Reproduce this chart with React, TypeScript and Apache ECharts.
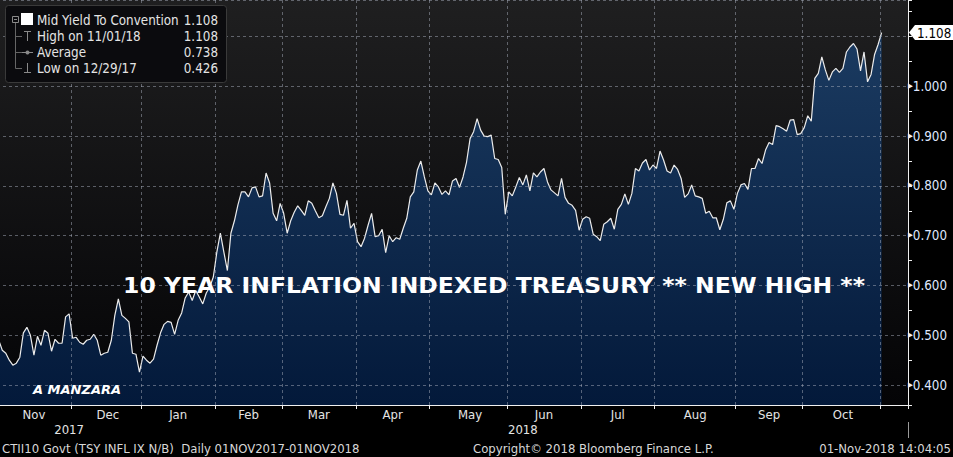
import React, { useEffect, useRef } from "react";
import * as echarts from "echarts";

// ---------- data ----------
const monthNames = ["Nov", "Dec", "Jan", "Feb", "Mar", "Apr", "May", "Jun", "Jul", "Aug", "Sep", "Oct", "Nov"];
const monthYears = [2017, 2017, 2018, 2018, 2018, 2018, 2018, 2018, 2018, 2018, 2018, 2018, 2018];

const nov2017 = [0.49, 0.47, 0.464, 0.45, 0.44, 0.444, 0.456, 0.505, 0.516, 0.5, 0.46, 0.498, 0.48, 0.51, 0.504, 0.468, 0.492, 0.484, 0.484, 0.537, 0.543];
const dec2017 = [0.494, 0.496, 0.486, 0.482, 0.49, 0.492, 0.502, 0.49, 0.46, 0.464, 0.466, 0.49, 0.54, 0.573, 0.54, 0.534, 0.527, 0.464, 0.462, 0.426];
const jan2018 = [0.458, 0.45, 0.444, 0.452, 0.48, 0.505, 0.522, 0.528, 0.526, 0.502, 0.53, 0.545, 0.575, 0.587, 0.57, 0.59, 0.577, 0.563, 0.585, 0.597, 0.617];
const feb2018 = [0.667, 0.705, 0.667, 0.63, 0.705, 0.73, 0.762, 0.788, 0.788, 0.778, 0.796, 0.798, 0.778, 0.78, 0.826, 0.806, 0.745, 0.73, 0.765];
const mar2018 = [0.745, 0.705, 0.73, 0.747, 0.76, 0.751, 0.741, 0.77, 0.765, 0.75, 0.736, 0.74, 0.758, 0.775, 0.806, 0.785, 0.743, 0.741, 0.771, 0.715, 0.725];
const apr2018 = [0.688, 0.678, 0.695, 0.721, 0.745, 0.698, 0.7, 0.713, 0.666, 0.7, 0.688, 0.696, 0.693, 0.715, 0.735, 0.778, 0.788, 0.832, 0.85, 0.818, 0.79];
const may2018 = [0.782, 0.806, 0.798, 0.783, 0.79, 0.782, 0.81, 0.815, 0.797, 0.818, 0.848, 0.895, 0.909, 0.935, 0.912, 0.9, 0.899, 0.902, 0.855, 0.853, 0.837, 0.743];
const jun2018 = [0.788, 0.78, 0.798, 0.817, 0.802, 0.822, 0.79, 0.826, 0.818, 0.828, 0.835, 0.808, 0.792, 0.786, 0.78, 0.815, 0.777, 0.765, 0.761, 0.751, 0.711];
const jul2018 = [0.733, 0.738, 0.735, 0.703, 0.698, 0.69, 0.723, 0.728, 0.735, 0.713, 0.753, 0.763, 0.784, 0.763, 0.785, 0.835, 0.83, 0.846, 0.853, 0.832, 0.842];
const aug2018 = [0.835, 0.87, 0.852, 0.83, 0.826, 0.842, 0.833, 0.815, 0.777, 0.784, 0.802, 0.78, 0.778, 0.775, 0.745, 0.749, 0.736, 0.736, 0.712, 0.733, 0.766, 0.77, 0.753];
const sep2018 = [0.785, 0.802, 0.805, 0.793, 0.835, 0.835, 0.855, 0.845, 0.872, 0.887, 0.883, 0.921, 0.919, 0.915, 0.91, 0.932, 0.933, 0.903, 0.905];
const oct2018 = [0.917, 0.941, 0.93, 1.016, 1.026, 1.059, 1.033, 1.012, 1.029, 1.036, 1.028, 1.036, 1.069, 1.079, 1.086, 1.075, 1.031, 1.069, 1.009, 1.024, 1.064, 1.084];
const nov2018 = [1.108];
const monthValues = [nov2017, dec2017, jan2018, feb2018, mar2018, apr2018, may2018, jun2018, jul2018, aug2018, sep2018, oct2018, nov2018];
const emptyDaysAfter = 7;

const legendLabels = ["Mid Yield To Convention", "High on 11/01/18", "Average", "Low on 12/29/17"];
const legendValues = ["1.108", "1.108", "0.738", "0.426"];
const lastValue = 1.108;
const yMin = 0.36;
const yMax = 1.1734;

const titleText = "10 YEAR INFLATION INDEXED TREASURY ** NEW HIGH **";
const authorText = "A MANZARA";
const footerLeft = "CTII10 Govt (TSY INFL IX N/B)  Daily 01NOV2017-01NOV2018";
const footerMid = "Copyright\u00A9 2018 Bloomberg Finance L.P.";
const footerRight = "01-Nov-2018 14:04:05";

const FONT = '"DejaVu Sans Condensed", "DejaVu Sans", sans-serif';
const TXT = "#e4e4e4";
const W = 953;
const H = 457;
const GRID_RIGHT = 45;

export default function App() {
  const ref = useRef<HTMLDivElement>(null);
  useEffect(() => {
    document.body.style.margin = "0";
    if (!ref.current) return;
    const chart = echarts.init(ref.current, null, { renderer: "svg" });

    const categories: string[] = [];
    const values: (number | null)[] = [];
    const monthStarts: number[] = [];
    const monthMids: number[] = [];
    monthValues.forEach((arr, m) => {
      monthStarts.push(categories.length);
      if (m < monthValues.length - 1) monthMids.push(categories.length + Math.floor(arr.length / 2));
      arr.forEach((v, k) => {
        categories.push(`${monthNames[m]} ${monthYears[m]} #${k + 1}`);
        values.push(v);
      });
    });
    for (let j = 0; j < emptyDaysAfter; j++) {
      categories.push(`Nov 2018 +${j + 1}`);
      values.push(null);
    }
    const startSet = new Set(monthStarts.filter((i) => i > 0));
    const midSet = new Set(monthMids);
    const janIndex = monthStarts[2];
    const mid2017 = Math.floor((janIndex - 1) / 2);
    const mid2018 = Math.floor((janIndex + categories.length - 1) / 2);

    const gridLine = { color: "rgba(165,172,185,0.5)", type: [3, 3] as any, width: 1 };

    const rows = [20, 36, 52, 68];
    const grey = "#8a8a8a";
    const legendGraphics: any[] = [
      { type: "rect", shape: { x: 5.5, y: 5.5, width: 221, height: 77, r: 3 }, style: { fill: "#0b0b0e", stroke: "#3a3a3a", lineWidth: 1 }, z: 10 },
      { type: "rect", shape: { x: 12.5, y: 16.5, width: 6, height: 6 }, style: { fill: "none", stroke: grey, lineWidth: 1 }, z: 11 },
      { type: "line", shape: { x1: 14, y1: 19.5, x2: 17, y2: 19.5 }, style: { stroke: grey, lineWidth: 1 }, z: 11 },
      { type: "rect", shape: { x: 21, y: 13, width: 12, height: 12 }, style: { fill: "#ffffff" }, z: 11 },
      { type: "line", shape: { x1: 15.5, y1: 23, x2: 15.5, y2: 68.5 }, style: { stroke: "#666", lineWidth: 1 }, z: 11 },
      ...rows.slice(1).map((y) => ({ type: "line", shape: { x1: 15.5, y1: y + 0.5, x2: 22, y2: y + 0.5 }, style: { stroke: "#666", lineWidth: 1 }, z: 11 })),
      { type: "line", shape: { x1: 24, y1: 31.5, x2: 31, y2: 31.5 }, style: { stroke: grey, lineWidth: 1 }, z: 11 },
      { type: "line", shape: { x1: 27.5, y1: 31.5, x2: 27.5, y2: 41 }, style: { stroke: grey, lineWidth: 1 }, z: 11 },
      { type: "line", shape: { x1: 22, y1: 52.5, x2: 33, y2: 52.5 }, style: { stroke: grey, lineWidth: 1 }, z: 11 },
      { type: "circle", shape: { cx: 27.5, cy: 52.5, r: 2 }, style: { fill: grey }, z: 11 },
      { type: "line", shape: { x1: 27.5, y1: 63, x2: 27.5, y2: 72.5 }, style: { stroke: grey, lineWidth: 1 }, z: 11 },
      { type: "line", shape: { x1: 24, y1: 72.5, x2: 31, y2: 72.5 }, style: { stroke: grey, lineWidth: 1 }, z: 11 },
      ...legendLabels.map((t, i) => ({
        type: "text", z: 11,
        style: { text: t, x: 37, y: rows[i], fill: TXT, fontSize: 13.3, fontFamily: FONT, align: "left", verticalAlign: "middle", textAlign: "left", textVerticalAlign: "middle" },
      })),
      ...legendValues.map((t, i) => ({
        type: "text", z: 11,
        style: { text: t, x: 218, y: rows[i], fill: TXT, fontSize: 13.3, fontFamily: FONT, align: "right", verticalAlign: "middle", textAlign: "right", textVerticalAlign: "middle" },
      })),
    ];

    const txt = (text: string, x: number, y: number, align: string) => ({
      type: "text", z: 12,
      style: { text, x, y, fill: "#d8d8d8", fontSize: 13, fontFamily: FONT, align, verticalAlign: "middle", textAlign: align, textVerticalAlign: "middle" },
    });

    const graphics: any[] = [
      ...legendGraphics,
      {
        type: "text", z: 12, x: 494, y: 285, scaleX: 1.12,
        style: { text: titleText, x: 0, y: 0, fill: "#ffffff", fontSize: 21, fontWeight: "bold", fontFamily: '"DejaVu Sans", sans-serif', align: "center", verticalAlign: "middle", textAlign: "center", textVerticalAlign: "middle" },
      },
      {
        type: "text", z: 12,
        style: { text: authorText, x: 33, y: 389, fill: "#ffffff", fontSize: 13, fontWeight: "bold", fontStyle: "italic", fontFamily: '"DejaVu Sans", sans-serif', align: "left", verticalAlign: "middle", textAlign: "left", textVerticalAlign: "middle" },
      },
      txt(footerLeft, 2, 448, "left"),
      txt(footerMid, 473, 448, "left"),
      txt(footerRight, 951, 448, "right"),
    ];

    const option: any = {
      animation: false,
      backgroundColor: "#000",
      grid: {
        left: -3, right: GRID_RIGHT, top: 0, bottom: 52, show: true, borderWidth: 0,
        backgroundColor: new echarts.graphic.LinearGradient(0, 0, 0, 1, [
          { offset: 0, color: "#1f1f20" },
          { offset: 1, color: "#040406" },
        ]),
        outerBoundsMode: "none",
      },
      xAxis: [
        {
          type: "category", data: categories, boundaryGap: true, z: 3,
          axisLine: { show: true, lineStyle: { color: "#f0f0f0", width: 1 } },
          axisTick: { show: true, interval: (i: number) => startSet.has(i), length: 4, lineStyle: { color: "#f0f0f0" } },
          axisLabel: {
            interval: (i: number) => midSet.has(i), formatter: (v: string) => v.split(" ")[0],
            color: TXT, fontSize: 13, fontFamily: FONT, margin: 3,
          },
          splitLine: { show: true, interval: (i: number) => startSet.has(i), lineStyle: gridLine },
        },
        {
          type: "category", data: categories, boundaryGap: true, position: "bottom", offset: 17,
          axisLine: { show: false },
          axisTick: { show: true, interval: (i: number) => i === janIndex, length: 16, lineStyle: { color: "#9a9a9a" } },
          axisLabel: {
            interval: (i: number) => i === mid2017 || i === mid2018, formatter: (v: string) => v.split(" ")[1],
            color: TXT, fontSize: 13, fontFamily: FONT, margin: 1,
          },
          splitLine: { show: false },
        },
      ],
      yAxis: {
        type: "value", position: "right", min: yMin, max: yMax, splitNumber: 8, minInterval: 0.1, maxInterval: 0.1, z: 3,
        axisLine: { show: true, lineStyle: { color: "#f0f0f0", width: 1 } },
        axisTick: { show: true, length: 4, lineStyle: { color: "#f0f0f0" } },
        minorTick: { show: true, splitNumber: 2, length: 4, lineStyle: { color: "#f0f0f0" } },
        axisLabel: {
          margin: 0,
          formatter: (v: number) => (v < 0.39 || v > 1.05 ? "" : `{a|\u25B6}{b|${v.toFixed(3)}}`),
          rich: {
            a: { color: "#f0f0f0", fontSize: 7, fontFamily: FONT, padding: [0, 0, 1, 0] },
            b: { color: "#dfe8ff", fontSize: 13.3, fontFamily: FONT },
          },
        },
        splitLine: { show: true, lineStyle: gridLine },
      },
      series: [
        {
          type: "line", data: values, xAxisIndex: 0, yAxisIndex: 0, symbol: "none", showSymbol: false, z: 2,
          lineStyle: { color: "#ececec", width: 1.2 },
          areaStyle: {
            opacity: 1,
            color: new echarts.graphic.LinearGradient(0, 0, 0, 1, [
              { offset: 0, color: "#1b3b61" },
              { offset: 1, color: "#03193a" },
            ]),
          },
        },
      ],
      graphic: graphics,
    };
    chart.setOption(option);

    // current-value tag on the right axis, placed through the y scale
    const yPix = chart.convertToPixel({ yAxisIndex: 0 }, lastValue) as number;
    if (typeof yPix === "number" && isFinite(yPix)) {
      option.graphic = [
        ...graphics,
        {
          type: "group", x: W - GRID_RIGHT + 1, y: yPix, z: 20,
          children: [
            { type: "polygon", shape: { points: [[0, 0], [6, -7.5], [46, -7.5], [46, 7.5], [6, 7.5]] }, style: { fill: "#ffffff" }, z: 20 },
            { type: "text", z: 21, style: { text: lastValue.toFixed(3), x: 8, y: 0.5, fill: "#000", fontSize: 13.3, fontFamily: FONT, align: "left", verticalAlign: "middle", textAlign: "left", textVerticalAlign: "middle" } },
          ],
        },
      ];
      chart.setOption(option, true);
    }
    return () => chart.dispose();
  }, []);
  return <div ref={ref} style={{ width: W, height: H, background: "#000" }} />;
}
